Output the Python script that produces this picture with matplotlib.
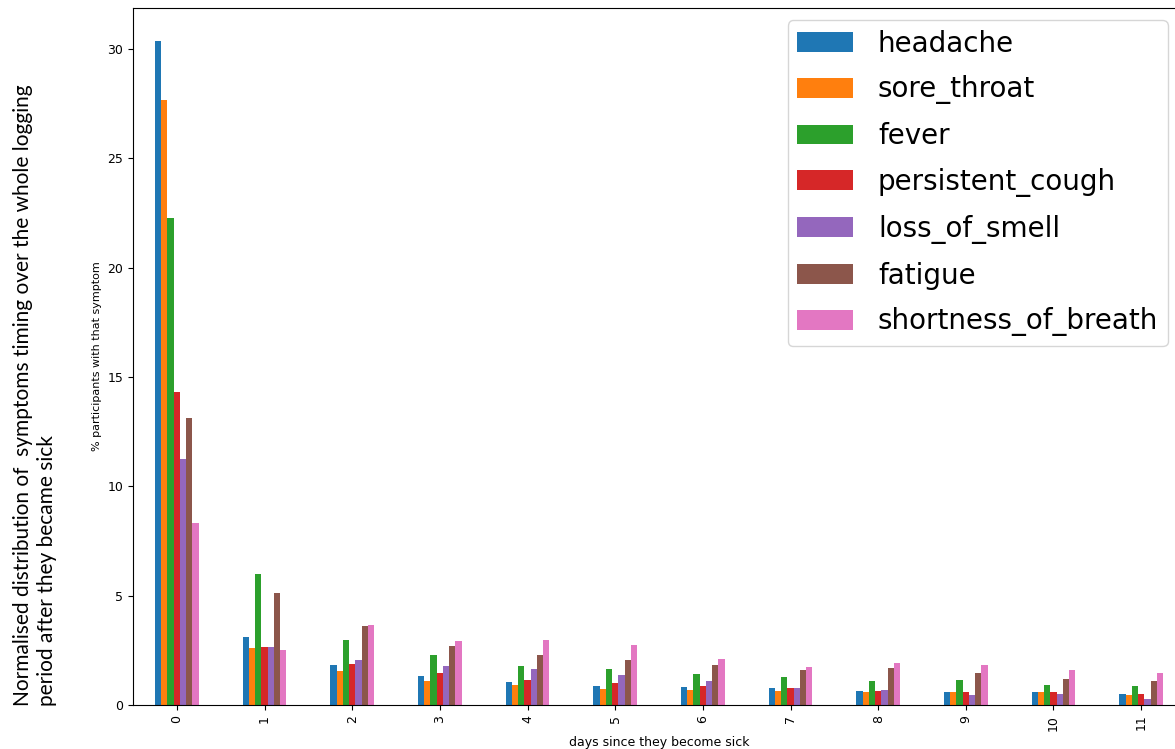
import numpy as np
import matplotlib.pyplot as plt

days = list(range(12))
symptoms = ["headache", "sore_throat", "fever", "persistent_cough",
            "loss_of_smell", "fatigue", "shortness_of_breath"]

headache = [30.35, 3.10, 1.81, 1.34, 1.05, 0.87, 0.82, 0.76, 0.64, 0.58, 0.58, 0.52]
sore_throat = [27.64, 2.60, 1.57, 1.10, 0.93, 0.75, 0.68, 0.64, 0.58, 0.58, 0.58, 0.46]
fever = [22.28, 5.97, 2.97, 2.27, 1.80, 1.63, 1.40, 1.28, 1.11, 1.16, 0.93, 0.87]
persistent_cough = [14.30, 2.65, 1.86, 1.45, 1.16, 0.99, 0.87, 0.76, 0.64, 0.58, 0.58, 0.52]
loss_of_smell = [11.26, 2.65, 2.04, 1.80, 1.63, 1.39, 1.10, 0.76, 0.70, 0.46, 0.52, 0.29]
fatigue = [13.14, 5.10, 3.61, 2.68, 2.27, 2.04, 1.81, 1.58, 1.69, 1.46, 1.17, 1.11]
shortness_of_breath = [8.33, 2.50, 3.67, 2.92, 2.97, 2.74, 2.10, 1.75, 1.92, 1.81, 1.58, 1.46]

series = [headache, sore_throat, fever, persistent_cough,
          loss_of_smell, fatigue, shortness_of_breath]
colors = ["#1f77b4", "#ff7f0e", "#2ca02c", "#d62728",
          "#9467bd", "#8c564b", "#e377c2"]

W, H = 1175, 749
fig = plt.figure(figsize=(W / 100, H / 100), dpi=100)
ax = fig.add_axes([133 / W, 1 - 705 / H, (1185 - 133) / W, (705 - 8) / H])

x = np.arange(len(days))
n = len(series)
bw = 0.5 / n
for i, (name, vals) in enumerate(zip(symptoms, series)):
    ax.bar(x - 0.25 + bw * (i + 0.5), vals, width=bw, color=colors[i], label=name)

ax.set_xlim(-0.5, len(days) - 0.5)
ax.set_ylim(0, max(headache) * 1.05)
ax.set_xticks(x)
ax.set_xticklabels([str(d) for d in days], rotation=90, fontsize=9)
ax.tick_params(axis="y", labelsize=9)
ax.set_xlabel("days since they become sick", fontsize=9)
ax.set_ylabel("% participants with that symptom", fontsize=8)

ax.legend(loc="upper right", bbox_to_anchor=(1168 / W, 1 - 20 / H),
          bbox_transform=fig.transFigure, borderaxespad=0, fontsize=20,
          handlelength=2.0, handleheight=0.72, labelspacing=0.64,
          handletextpad=0.9, borderpad=0.35, frameon=True)

fig.text(35 / W, 1 - 395 / H, "Normalised distribution of  symptoms timing over the whole logging\n"
         "period after they became sick", rotation=90, ha="center", va="center",
         multialignment="left", fontsize=15, family=["Lato", "DejaVu Sans"],
         linespacing=1.3)

fig.savefig("out.png", dpi=100)
